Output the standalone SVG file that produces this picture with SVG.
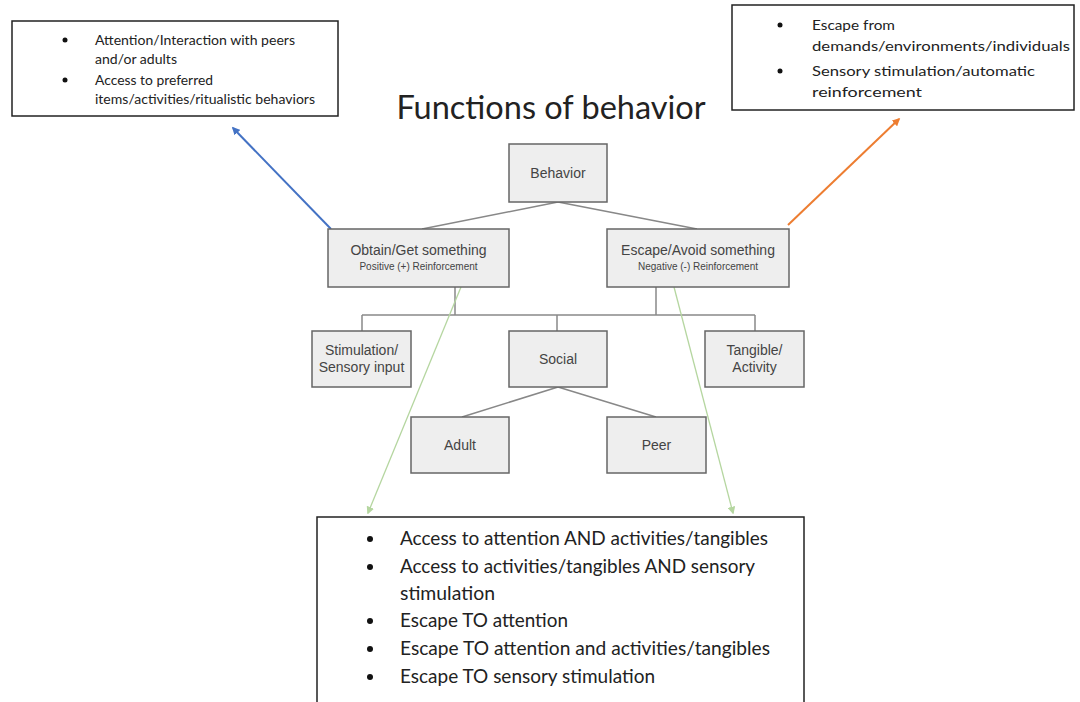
<svg xmlns="http://www.w3.org/2000/svg" width="1080" height="702" viewBox="0 0 1080 702">
<style>
.node rect{fill:#eeeeee;stroke:#666;stroke-width:1.5}
.node text{font-family:"Liberation Sans",Arial,sans-serif;font-size:14px;fill:#444;text-anchor:middle}
.node text.sub{font-size:10px}
.tree line{stroke:#888;stroke-width:1.5}
.note rect{fill:#fff;stroke:#222;stroke-width:1.5}
.note text{font-family:Lato,"Open Sans",sans-serif;fill:#222}
.note circle{fill:#111}
.sm text{font-size:13px}
.lg text{font-size:19px}
</style>
<defs>
<marker id="ab" viewBox="0 0 10 10" refX="8" refY="5" markerWidth="4" markerHeight="4" orient="auto"><path d="M0,0L10,5L0,10z" fill="#4472c4"/></marker>
<marker id="ao" viewBox="0 0 10 10" refX="8" refY="5" markerWidth="4" markerHeight="4" orient="auto"><path d="M0,0L10,5L0,10z" fill="#ed7d31"/></marker>
<marker id="ag" viewBox="0 0 10 10" refX="8" refY="5" markerWidth="6" markerHeight="6" orient="auto"><path d="M0,0L10,5L0,10z" fill="#b5d6a0"/></marker>
</defs>
<rect width="1080" height="702" fill="#fff"/>
<text x="551" y="119" font-family="Lato,'Open Sans',sans-serif" font-size="32.5" fill="#222" text-anchor="middle">Functions of behavior</text>
<g id="connectors">
<g class="tree">
<line x1="558" y1="202" x2="422" y2="229"/>
<line x1="558" y1="202" x2="697" y2="229"/>
<line x1="455" y1="287" x2="455" y2="315"/>
<line x1="656" y1="287" x2="656" y2="315"/>
<line x1="362" y1="315" x2="755" y2="315"/>
<line x1="362" y1="315" x2="362" y2="331"/>
<line x1="557" y1="315" x2="557" y2="331"/>
<line x1="755" y1="315" x2="755" y2="331"/>
<line x1="558" y1="387" x2="462" y2="417"/>
<line x1="558" y1="387" x2="656" y2="417"/>
</g>
<line x1="331" y1="229" x2="233" y2="128" stroke="#4472c4" stroke-width="2" marker-end="url(#ab)"/>
<line x1="788" y1="225" x2="899" y2="119" stroke="#ed7d31" stroke-width="2" marker-end="url(#ao)"/>
<line x1="461" y1="287" x2="368" y2="513" stroke="#b5d6a0" stroke-width="1.3" marker-end="url(#ag)"/>
<line x1="674" y1="287" x2="733" y2="513" stroke="#b5d6a0" stroke-width="1.3" marker-end="url(#ag)"/>
</g>
<g id="behavior" class="node"><rect x="509" y="144" width="98" height="58"/><text x="558" y="178">Behavior</text></g>
<g id="obtain" class="node"><rect x="328" y="229" width="181" height="58"/><text x="418.5" y="255">Obtain/Get something</text><text class="sub" x="418.5" y="270">Positive (+) Reinforcement</text></g>
<g id="escape" class="node"><rect x="607" y="229" width="182" height="58"/><text x="698" y="255">Escape/Avoid something</text><text class="sub" x="698" y="270">Negative (-) Reinforcement</text></g>
<g id="stimulation" class="node"><rect x="312" y="331" width="99" height="56"/><text x="361.5" y="355">Stimulation/</text><text x="361.5" y="372">Sensory input</text></g>
<g id="social" class="node"><rect x="509" y="331" width="98" height="56"/><text x="558" y="364">Social</text></g>
<g id="tangible" class="node"><rect x="705" y="331" width="99" height="56"/><text x="754.5" y="355">Tangible/</text><text x="754.5" y="372">Activity</text></g>
<g id="adult" class="node"><rect x="411" y="417" width="98" height="56"/><text x="460" y="450">Adult</text></g>
<g id="peer" class="node"><rect x="607" y="417" width="99" height="56"/><text x="656.5" y="450">Peer</text></g>
<g id="note-obtain" class="note sm">
<rect x="12" y="21" width="326" height="95"/>
<circle cx="65" cy="40" r="2.5"/><circle cx="65" cy="80" r="2.5"/>
<text x="95" y="45" textLength="200" lengthAdjust="spacingAndGlyphs">Attention/Interaction with peers</text>
<text x="95" y="64" textLength="82" lengthAdjust="spacingAndGlyphs">and/or adults</text>
<text x="95" y="85" textLength="118" lengthAdjust="spacingAndGlyphs">Access to preferred</text>
<text x="95" y="104" textLength="220" lengthAdjust="spacingAndGlyphs">items/activities/ritualistic behaviors</text>
</g>
<g id="note-escape" class="note sm">
<rect x="732" y="5" width="342" height="105"/>
<circle cx="780" cy="25" r="2.5"/><circle cx="780" cy="71" r="2.5"/>
<text x="812" y="30" textLength="83" lengthAdjust="spacingAndGlyphs">Escape from</text>
<text x="812" y="51" textLength="258" lengthAdjust="spacingAndGlyphs">demands/environments/individuals</text>
<text x="812" y="76" textLength="223" lengthAdjust="spacingAndGlyphs">Sensory stimulation/automatic</text>
<text x="812" y="97" textLength="110" lengthAdjust="spacingAndGlyphs">reinforcement</text>
</g>
<g id="note-both" class="note lg">
<rect x="317" y="517" width="487" height="200"/>
<circle cx="370" cy="539" r="3"/><circle cx="370" cy="567" r="3"/><circle cx="370" cy="621" r="3"/><circle cx="370" cy="649" r="3"/><circle cx="370" cy="677" r="3"/>
<text x="400" y="545" textLength="368" lengthAdjust="spacingAndGlyphs">Access to attention AND activities/tangibles</text>
<text x="400" y="573" textLength="355" lengthAdjust="spacingAndGlyphs">Access to activities/tangibles AND sensory</text>
<text x="400" y="600" textLength="95" lengthAdjust="spacingAndGlyphs">stimulation</text>
<text x="400" y="627" textLength="168" lengthAdjust="spacingAndGlyphs">Escape TO attention</text>
<text x="400" y="655" textLength="370" lengthAdjust="spacingAndGlyphs">Escape TO attention and activities/tangibles</text>
<text x="400" y="683" textLength="255" lengthAdjust="spacingAndGlyphs">Escape TO sensory stimulation</text>
</g>
</svg>
